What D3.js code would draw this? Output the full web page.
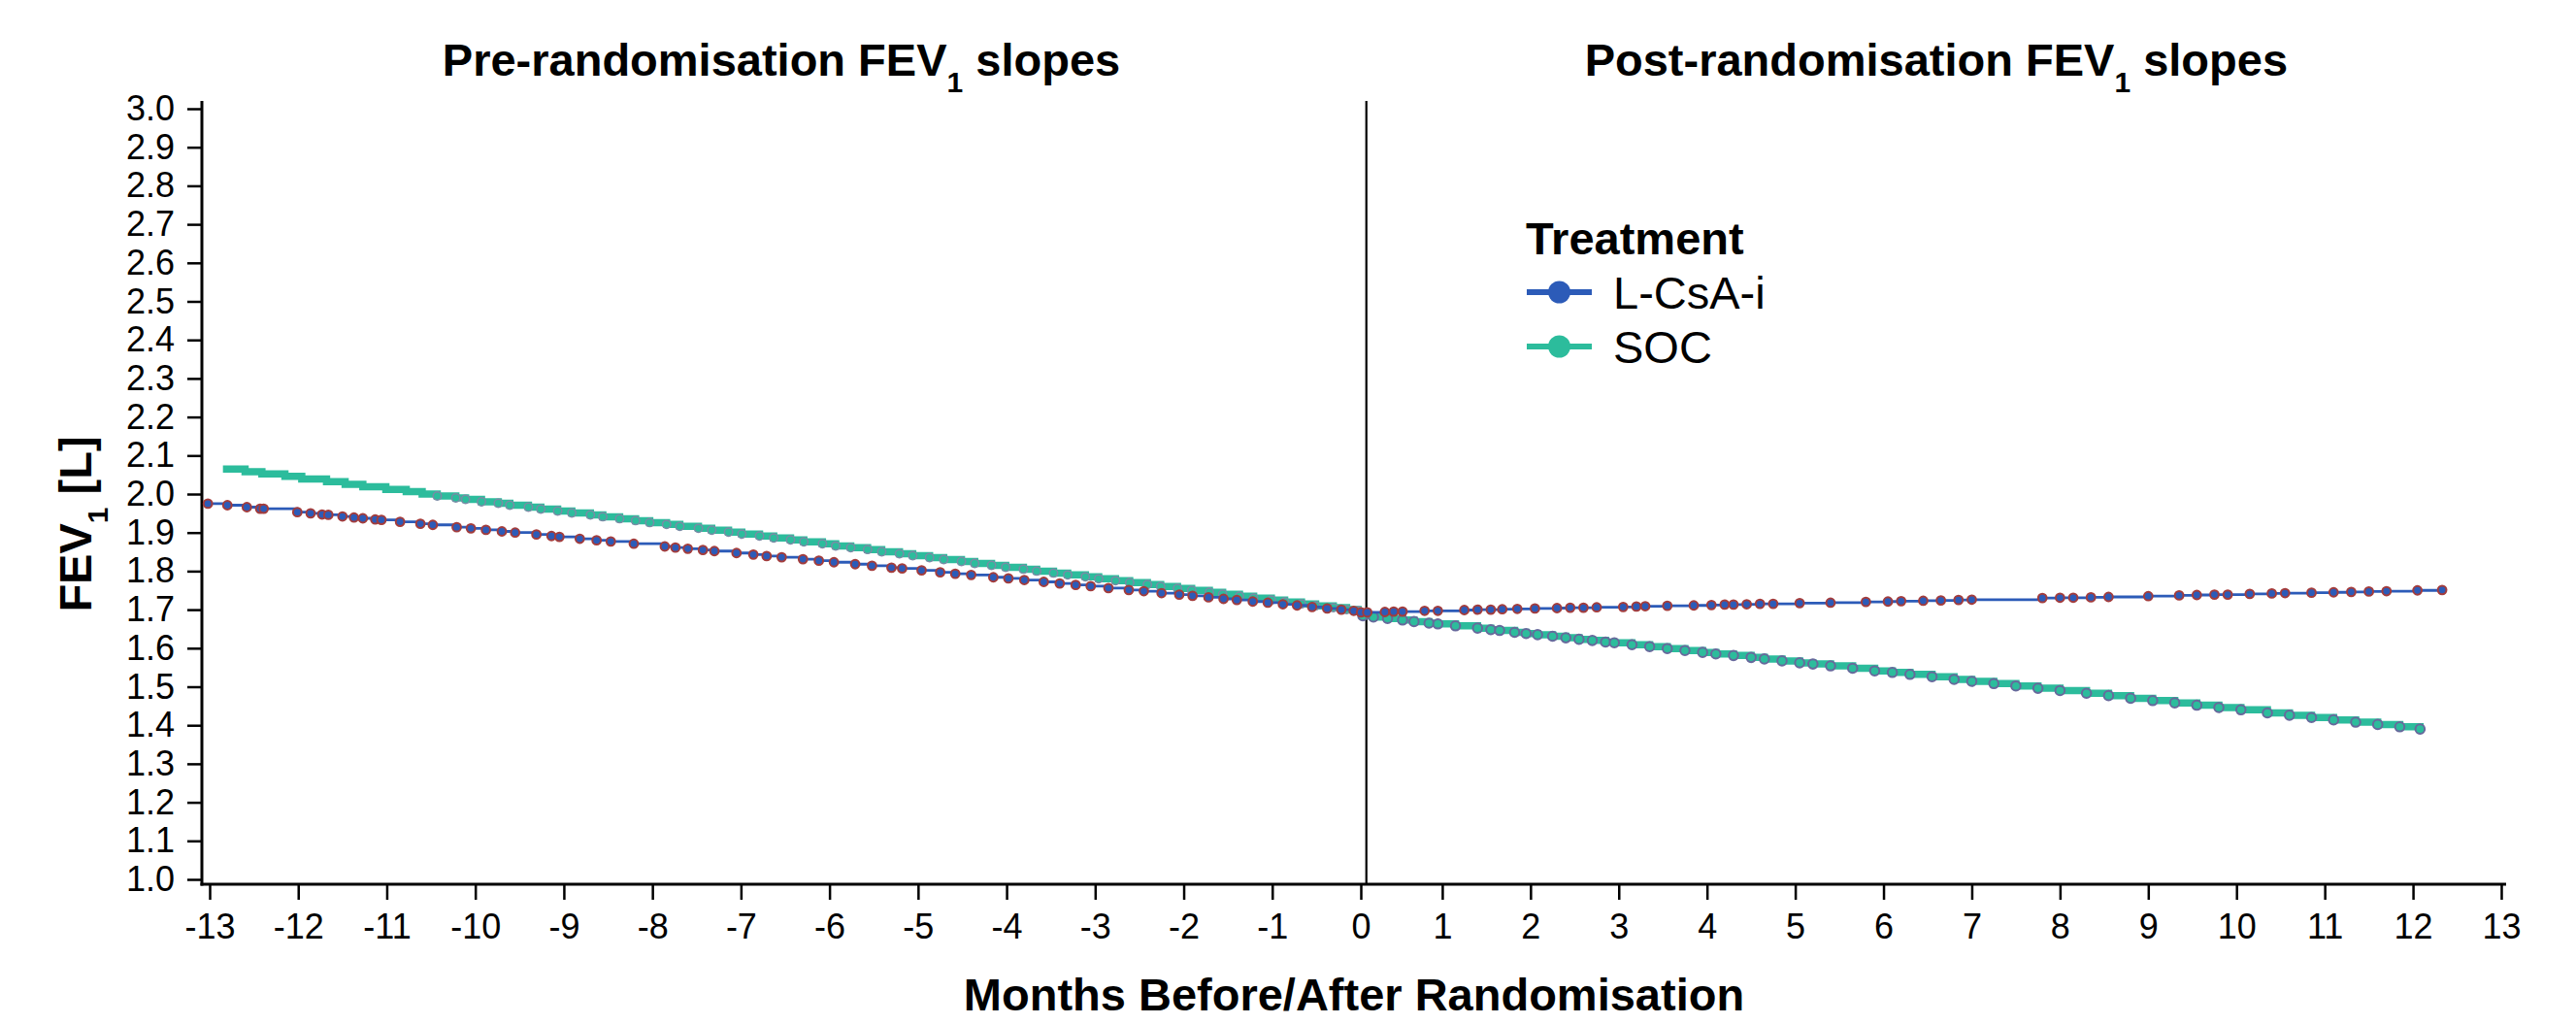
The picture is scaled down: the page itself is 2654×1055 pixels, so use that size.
<!DOCTYPE html>
<html>
<head>
<meta charset="utf-8">
<script src="https://cdn.jsdelivr.net/npm/d3@7"></script>
<style>
  body { margin: 0; background: #fff; }
  text { font-family: "Liberation Sans", Arial, Helvetica, sans-serif; fill: #000; }
  .axis line { stroke: #000; stroke-width: 2.5; }
  .title { font-size: 47px; font-weight: bold; }
  .legend-label { font-size: 47px; }
</style>
</head>
<body>
<svg id="chart"></svg>
<script>
// ---- data ----
const treatments = ['L-CsA-i', 'SOC'];
const panelTitles = ['Pre-randomisation FEV', 'Post-randomisation FEV'];
const yTicks = [1.0, 1.1, 1.2, 1.3, 1.4, 1.5, 1.6, 1.7, 1.8, 1.9, 2.0, 2.1, 2.2, 2.3, 2.4, 2.5, 2.6, 2.7, 2.8, 2.9, 3.0];
const xTicksPre = [-13, -12, -11, -10, -9, -8, -7, -6, -5, -4, -3, -2, -1, 0];
const xTicksPost = [1, 2, 3, 4, 5, 6, 7, 8, 9, 10, 11, 12, 13];

// pre-randomisation, L-CsA-i
const preLcsaMonths = [-13.02, -12.80, -12.58, -12.43, -12.39, -12.01, -11.86, -11.73, -11.66, -11.50, -11.37, -11.27, -11.13, -11.06,
  -10.85, -10.62, -10.48, -10.21, -10.05, -9.88, -9.70, -9.55, -9.31, -9.14, -9.05, -8.82, -8.63, -8.47, -8.21,
  -7.86, -7.74, -7.60, -7.43, -7.30, -7.05, -6.86, -6.71, -6.54, -6.30, -6.12, -5.95, -5.71, -5.52, -5.30, -5.18,
  -4.96, -4.75, -4.58, -4.40, -4.15, -3.98, -3.80, -3.58, -3.40, -3.22, -3.05, -2.85, -2.62, -2.45, -2.25, -2.05,
  -1.90, -1.72, -1.55, -1.40, -1.22, -1.05, -0.88, -0.72, -0.55, -0.38, -0.22, -0.08];
const preLcsaFev1 = [1.975, 1.971, 1.966, 1.962, 1.962, 1.953, 1.950, 1.947, 1.946, 1.942, 1.939, 1.937, 1.934, 1.933,
  1.928, 1.923, 1.920, 1.914, 1.911, 1.907, 1.903, 1.900, 1.895, 1.891, 1.889, 1.884, 1.880, 1.877, 1.871,
  1.864, 1.861, 1.858, 1.855, 1.852, 1.847, 1.843, 1.839, 1.836, 1.831, 1.827, 1.823, 1.818, 1.814, 1.809, 1.807,
  1.802, 1.797, 1.793, 1.790, 1.784, 1.781, 1.777, 1.772, 1.768, 1.764, 1.761, 1.756, 1.751, 1.748, 1.743, 1.739,
  1.736, 1.732, 1.728, 1.725, 1.721, 1.718, 1.714, 1.711, 1.707, 1.703, 1.700, 1.697];

// pre-randomisation, SOC
const preSocMonths = [-12.85, -12.60, -12.41, -12.15, -11.96, -11.68, -11.47, -11.27, -11.01, -10.78, -10.60, -10.43,
  -10.22, -10.11, -9.93, -9.74, -9.61, -9.40, -9.26, -9.07, -8.91, -8.70, -8.56, -8.37, -8.19, -8.03, -7.84,
  -7.69, -7.48, -7.33, -7.14, -6.99, -6.79, -6.63, -6.44, -6.29, -6.08, -5.93, -5.76, -5.57, -5.41, -5.21,
  -5.06, -4.87, -4.71, -4.51, -4.36, -4.17, -4.01, -3.81, -3.66, -3.47, -3.31, -3.11, -2.96, -2.77, -2.61,
  -2.41, -2.26, -2.07, -1.91, -1.71, -1.56, -1.37, -1.21, -1.01, -0.86, -0.67, -0.51, -0.31, -0.16, -0.03];
const preSocFev1 = [2.065, 2.058, 2.052, 2.046, 2.039, 2.032, 2.025, 2.019, 2.012, 2.006, 2.000, 1.995,
  1.990, 1.986, 1.980, 1.976, 1.971, 1.966, 1.961, 1.956, 1.951, 1.946, 1.941, 1.936, 1.931, 1.926, 1.921,
  1.916, 1.911, 1.906, 1.901, 1.896, 1.891, 1.886, 1.881, 1.876, 1.871, 1.865, 1.861, 1.856, 1.850, 1.845,
  1.840, 1.835, 1.830, 1.825, 1.820, 1.815, 1.810, 1.805, 1.800, 1.795, 1.790, 1.785, 1.780, 1.775, 1.770,
  1.765, 1.760, 1.755, 1.750, 1.745, 1.740, 1.735, 1.730, 1.725, 1.720, 1.715, 1.710, 1.705, 1.700, 1.697];

// post-randomisation, L-CsA-i
const postLcsaMonths = [0.08, 0.15, 0.35, 0.45, 0.55, 0.80, 0.95, 1.25, 1.40, 1.55, 1.68, 1.85, 2.05, 2.30, 2.45,
  2.60, 2.75, 3.05, 3.20, 3.30, 3.55, 3.85, 4.05, 4.20, 4.30, 4.45, 4.60, 4.75, 5.05, 5.40, 5.80, 6.05, 6.20,
  6.45, 6.65, 6.85, 7.00, 7.80, 8.00, 8.15, 8.35, 8.55, 9.00, 9.35, 9.55, 9.75, 9.90, 10.15, 10.40, 10.55,
  10.85, 11.10, 11.30, 11.50, 11.70, 12.05, 12.33];
const postLcsaFev1 = [1.693, 1.693, 1.694, 1.695, 1.695, 1.697, 1.697, 1.699, 1.700, 1.700, 1.701, 1.702, 1.703, 1.704, 1.705,
  1.705, 1.706, 1.707, 1.708, 1.709, 1.710, 1.711, 1.712, 1.713, 1.713, 1.714, 1.715, 1.715, 1.717, 1.718, 1.720, 1.721, 1.722,
  1.723, 1.724, 1.725, 1.726, 1.730, 1.731, 1.731, 1.732, 1.733, 1.735, 1.737, 1.738, 1.739, 1.739, 1.741, 1.742, 1.743,
  1.744, 1.745, 1.746, 1.747, 1.748, 1.750, 1.751];

// post-randomisation, SOC
const postSocMonths = [0.10, 0.22, 0.38, 0.55, 0.68, 0.85, 0.95, 1.15, 1.40, 1.55, 1.65, 1.82, 1.95, 2.08, 2.25,
  2.40, 2.55, 2.70, 2.85, 2.95, 3.15, 3.35, 3.55, 3.75, 3.95, 4.10, 4.30, 4.50, 4.65, 4.85, 5.05, 5.20, 5.40,
  5.65, 5.90, 6.10, 6.30, 6.55, 6.80, 7.00, 7.25, 7.50, 7.75, 8.00, 8.30, 8.55, 8.80, 9.05, 9.30, 9.55, 9.80,
  10.05, 10.35, 10.60, 10.85, 11.10, 11.35, 11.60, 11.85, 12.08];
const postSocFev1 = [1.684, 1.681, 1.677, 1.673, 1.669, 1.665, 1.663, 1.658, 1.652, 1.648, 1.646, 1.641, 1.638, 1.635, 1.631,
  1.627, 1.623, 1.620, 1.616, 1.614, 1.609, 1.604, 1.599, 1.594, 1.589, 1.585, 1.581, 1.576, 1.572, 1.567, 1.562, 1.559, 1.554,
  1.548, 1.541, 1.537, 1.532, 1.526, 1.519, 1.514, 1.508, 1.502, 1.496, 1.490, 1.483, 1.477, 1.470, 1.464, 1.458, 1.452, 1.446,
  1.440, 1.432, 1.426, 1.420, 1.414, 1.408, 1.402, 1.396, 1.390];

const zip = (ms, vs) => ms.map((m, i) => ({month: m, fev1: vs[i]}));

class SlopeChart {
  constructor(_config) {
    this.config = {
      parentElement: _config.parentElement,
      containerWidth: 2654,
      containerHeight: 1055,
      axisX: 208,          // y-axis position
      axisTop: 104,
      axisBottom: 911,     // x-axis position
      axisRight: 2582,
      preRange: [216, 1402],
      postRange: [1395, 2577],
      yRange: [906, 112],
      refMonth: 0.14,
      preSocMarkerFrom: -10.45,   // SOC markers before this are hidden under the line
      colors: {'L-CsA-i': '#2c5bb8', 'SOC': '#2cbc9c'},
    };
    this.initVis();
  }

  initVis() {
    let vis = this;
    const c = vis.config;

    vis.svg = d3.select(c.parentElement)
        .attr('width', c.containerWidth)
        .attr('height', c.containerHeight);

    vis.xPre = d3.scaleLinear().domain([-13, 0]).range(c.preRange);
    vis.xPost = d3.scaleLinear().domain([0, 13]).range(c.postRange);
    vis.yScale = d3.scaleLinear().domain([1, 3]).range(c.yRange);

    vis.renderAxes();
    vis.renderLines();
    vis.renderLegend();
  }

  renderAxes() {
    let vis = this;
    const c = vis.config;

    const yAxis = d3.axisLeft(vis.yScale).tickValues(yTicks)
        .tickFormat(d3.format('.1f')).tickSize(15).tickPadding(13);
    vis.svg.append('g').attr('class', 'axis')
        .attr('transform', `translate(${c.axisX},0)`)
        .call(yAxis)
        .call(g => g.select('.domain').remove());

    // plain hyphen for negatives, as in the original
    const xAxisPre = d3.axisBottom(vis.xPre).tickValues(xTicksPre).tickFormat(d => `${d}`).tickSize(16).tickPadding(14);
    const xAxisPost = d3.axisBottom(vis.xPost).tickValues(xTicksPost).tickFormat(d => `${d}`).tickSize(16).tickPadding(14);
    [xAxisPre, xAxisPost].forEach(ax => {
      vis.svg.append('g').attr('class', 'axis')
          .attr('transform', `translate(0,${c.axisBottom})`)
          .call(ax)
          .call(g => g.select('.domain').remove());
    });
    vis.svg.selectAll('.axis text')
        .attr('fill', '#000')
        .style('font-size', '36px')
        .style('font-family', '"Liberation Sans", Arial, sans-serif');

    // axis lines
    vis.svg.append('line')
        .attr('x1', c.axisX).attr('x2', c.axisX)
        .attr('y1', c.axisTop).attr('y2', c.axisBottom + 1.5)
        .attr('stroke', '#000').attr('stroke-width', 3);
    vis.svg.append('line')
        .attr('x1', c.axisX - 1.5).attr('x2', c.axisRight)
        .attr('y1', c.axisBottom).attr('y2', c.axisBottom)
        .attr('stroke', '#000').attr('stroke-width', 3);

    // randomisation reference line
    vis.svg.append('line')
        .attr('x1', vis.xPost(c.refMonth)).attr('x2', vis.xPost(c.refMonth))
        .attr('y1', c.axisTop).attr('y2', c.axisBottom)
        .attr('stroke', '#000').attr('stroke-width', 2.2);

    // panel titles
    const centers = [
      (c.axisX + vis.xPre.range()[1]) / 2,
      (vis.xPost(c.refMonth) + c.axisRight) / 2
    ];
    panelTitles.forEach((t, i) => {
      const txt = vis.svg.append('text').attr('class', 'title')
          .attr('x', centers[i]).attr('y', 78)
          .attr('text-anchor', 'middle');
      txt.append('tspan').text(t);
      txt.append('tspan').attr('baseline-shift', 'sub').style('font-size', '30px').text('1');
      txt.append('tspan').text(' slopes');
    });

    // axis titles
    vis.svg.append('text').attr('class', 'title')
        .attr('x', (c.axisX + c.axisRight) / 2).attr('y', 1041)
        .attr('text-anchor', 'middle')
        .text('Months Before/After Randomisation');

    const yl = vis.svg.append('text').attr('class', 'title')
        .attr('transform', `translate(94,540) rotate(-90)`)
        .attr('text-anchor', 'middle');
    yl.append('tspan').text('FEV');
    yl.append('tspan').attr('baseline-shift', 'sub').style('font-size', '30px').text('1');
    yl.append('tspan').text(' [L]');
  }

  renderLines() {
    let vis = this;
    const c = vis.config;
    const col = c.colors;

    const series = [
      {x: vis.xPre, data: zip(preSocMonths, preSocFev1), key: 'SOC', width: 7.5, r: 4.2, mStroke: '#7b8aa6', mWidth: 1.5,
        markers: d => d.month >= c.preSocMarkerFrom},
      {x: vis.xPre, data: zip(preLcsaMonths, preLcsaFev1), key: 'L-CsA-i', width: 2.8, r: 4.4, mStroke: '#a33c3c', mWidth: 2},
      {x: vis.xPost, data: zip(postSocMonths, postSocFev1), key: 'SOC', width: 7.5, r: 4.8, mStroke: '#67699c', mWidth: 2},
      {x: vis.xPost, data: zip(postLcsaMonths, postLcsaFev1), key: 'L-CsA-i', width: 2.8, r: 4.4, mStroke: '#a33c3c', mWidth: 2},
    ];

    series.forEach(s => {
      const line = d3.line()
          .x(d => s.x(d.month))
          .y(d => vis.yScale(d.fev1))
          .curve(d3.curveStepAfter);

      vis.svg.append('path')
          .datum(s.data)
          .attr('fill', 'none')
          .attr('stroke', col[s.key])
          .attr('stroke-width', s.width)
          .attr('d', line);

      vis.svg.append('g').selectAll('circle')
          .data(s.markers ? s.data.filter(s.markers) : s.data)
        .join('circle')
          .attr('cx', d => s.x(d.month))
          .attr('cy', d => vis.yScale(d.fev1))
          .attr('r', s.r)
          .attr('fill', col[s.key])
          .attr('stroke', s.mStroke)
          .attr('stroke-width', s.mWidth);
    });
  }

  renderLegend() {
    let vis = this;
    const col = vis.config.colors;

    const legend = vis.svg.append('g').attr('transform', 'translate(1572,262)');
    legend.append('text').attr('class', 'title').text('Treatment');

    const items = legend.selectAll('.item')
        .data(treatments)
      .join('g')
        .attr('class', 'item')
        .attr('transform', (d, i) => `translate(0,${39 + i * 56})`);
    items.append('line')
        .attr('x1', 1).attr('x2', 68)
        .attr('stroke', d => col[d]).attr('stroke-width', 6);
    items.append('circle')
        .attr('cx', 34.5).attr('r', 11.5)
        .attr('fill', d => col[d]);
    items.append('text')
        .attr('class', 'legend-label')
        .attr('x', 90).attr('y', 17)
        .text(d => d);
  }
}

new SlopeChart({parentElement: '#chart'});
</script>
</body>
</html>
